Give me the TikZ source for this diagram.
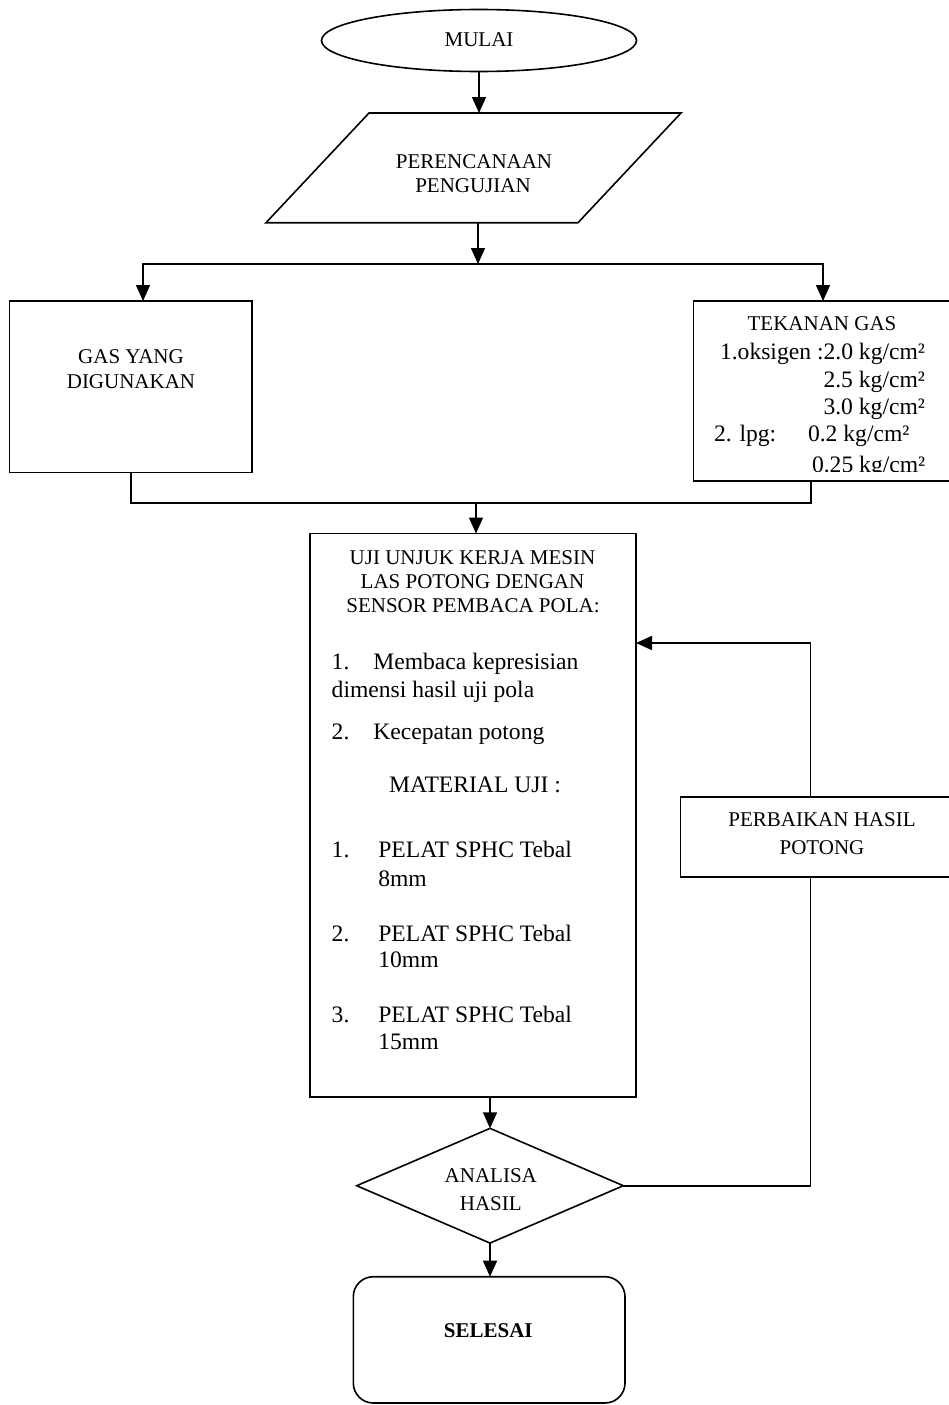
\documentclass[tikz,border=0pt]{standalone}
\usepackage{fontspec}
\setmainfont{Liberation Serif}
\usetikzlibrary{arrows.meta,shapes.geometric}
\newcommand\fsA{\fontsize{21}{25}\selectfont}
\newcommand\fsB{\fontsize{23.6}{28}\selectfont}
\tikzset{
  box/.style={draw, line width=1.6pt, inner sep=0pt, outer sep=0pt},
  lnk/.style={line width=1.6pt},
  arr/.style={lnk, -{Triangle[length=16pt,width=14pt]}},
  lblA/.style={inner sep=0pt, outer sep=0pt, font=\fsA, text height=13.9pt, text depth=0pt},
  lblB/.style={inner sep=0pt, outer sep=0pt, font=\fsB, text height=15.6pt, text depth=0pt},
}
\begin{document}
\begin{tikzpicture}[x=1pt,y=-1pt]
\useasboundingbox (0,0) rectangle (949,1405);
\clip (0,0) rectangle (949,1405);
\fill[white] (0,0) rectangle (949,1405);

% shapes
\node[box, ellipse, minimum width=315pt, minimum height=62pt] (mulai) at (479,40.5) {};
\node[inner sep=0pt, outer sep=0pt, minimum width=415pt, minimum height=109.7pt] (plan) at (473.5,167.85) {};
\draw[lnk] (plan.center) ++(-207.5,54.85) -- ++(312,0) -- ++(103,-109.7) -- ++(-312,0) -- cycle;
\node[box, minimum width=242.4pt, minimum height=171.3pt] (gas) at (130.5,386.65) {};
\node[box, minimum width=266.5pt, minimum height=180pt] (tek) at (826.75,391) {};
\node[box, minimum width=326pt, minimum height=563.5pt] (uji) at (473,815.25) {};
\node[box, minimum width=279.5pt, minimum height=80pt] (perb) at (820.25,837) {};
\node[box, diamond, minimum width=266.6pt, minimum height=114.7pt] (analisa) at (490,1185.7) {};
\node[box, rounded corners=20pt, minimum width=271.7pt, minimum height=126.3pt] (selesai) at (489.15,1339.85) {};

% texts
\node[lblA] (tmulai) at (479,40) {MULAI};
\node[lblA] (tplan1) at (474,162) {PERENCANAAN};
\node[lblA] (tplan2) at (473,186) {PENGUJIAN};
\node[lblA] (tgas1) at (131,357) {GAS YANG};
\node[lblA] (tgas2) at (131,382) {DIGUNAKAN};
\node[lblA] (ttek0) at (822,323.5) {TEKANAN GAS};
\node[lblB, anchor=west] (ttek1) at (720,352) {1.oksigen :2.0 kg/cm²};
\node[lblB, anchor=east] (ttek2) at (925,379.5) {2.5 kg/cm²};
\node[lblB, anchor=east] (ttek3) at (925,407) {3.0 kg/cm²};
\node[lblB, anchor=west] (ttek4) at (714,433.5) {2. lpg:};
\node[lblB, anchor=west] (ttek5) at (808,433.5) {0.2 kg/cm²};
\begin{scope}
\clip (690,440) rectangle (949,471.5);
\node[lblB, anchor=west] (ttek6) at (812,464.5) {0.25 kg/cm²};
\end{scope}

\node[lblA] (tuji1) at (472.5,557.7) {UJI UNJUK KERJA MESIN};
\node[lblA] (tuji2) at (472.5,581.7) {LAS POTONG DENGAN};
\node[lblA] (tuji3) at (473,606) {SENSOR PEMBACA POLA:};
\node[lblB, anchor=west] (tn1) at (331.7,661.7) {1.};
\node[lblB, anchor=west] (tm1) at (373.3,661.7) {Membaca kepresisian};
\node[lblB, anchor=west] (tm1b) at (331.7,690) {dimensi hasil uji pola};
\node[lblB, anchor=west] (tn2) at (331.7,731.7) {2.};
\node[lblB, anchor=west] (tm2) at (373.3,731.7) {Kecepatan potong};
\node[lblB] (tmat) at (475,785) {MATERIAL UJI :};
\node[lblB, anchor=west] (tp1n) at (331.7,850) {1.};
\node[lblB, anchor=west] (tp1) at (378.3,850) {PELAT SPHC Tebal};
\node[lblB, anchor=west] (tp1b) at (378.3,878.3) {8mm};
\node[lblB, anchor=west] (tp2n) at (331.7,933.3) {2.};
\node[lblB, anchor=west] (tp2) at (378.3,933.3) {PELAT SPHC Tebal};
\node[lblB, anchor=west] (tp2b) at (378.3,960) {10mm};
\node[lblB, anchor=west] (tp3n) at (331.7,1015) {3.};
\node[lblB, anchor=west] (tp3) at (378.3,1015) {PELAT SPHC Tebal};
\node[lblB, anchor=west] (tp3b) at (378.3,1041.7) {15mm};

\node[lblA] (tperb1) at (822,820) {PERBAIKAN HASIL};
\node[lblA] (tperb2) at (822,848) {POTONG};
\node[lblA] (tan1) at (490.8,1175.7) {ANALISA};
\node[lblA] (tan2) at (490.8,1203.5) {HASIL};
\node[lblA, font=\fsA\bfseries] (tsel) at (488.3,1330.7) {SELESAI};

% connectors
\draw[arr] (mulai.south) -- (mulai.south |- plan.north);
\coordinate (jm) at (478,264);
\coordinate (jl) at (143,264);
\coordinate (jr) at (823,264);
\draw[arr] (plan.south -| jm) -- (jm);
\draw[arr] (jm) -- (jl) -- (jl |- gas.north);
\draw[arr] (jm) -- (jr) -- (jr |- tek.north);

\coordinate (bl) at (131,503);
\coordinate (br) at (811,503);
\coordinate (bm) at (476,503);
\draw[lnk] (gas.south -| bl) -- (bl) -- (br) -- (tek.south -| br);
\draw[arr] (bm) -- (bm |- uji.north);

\draw[arr] (analisa.north |- uji.south) -- (analisa.north);
\draw[arr] (analisa.south) -- (analisa.south |- selesai.north);

\coordinate (lx) at (810.5,643);
\draw[lnk] (analisa.east) -- (analisa.east -| lx) -- (perb.south -| lx);
\draw[arr] (perb.north -| lx) -- (lx) -- (lx -| uji.east);
\end{tikzpicture}
\end{document}
